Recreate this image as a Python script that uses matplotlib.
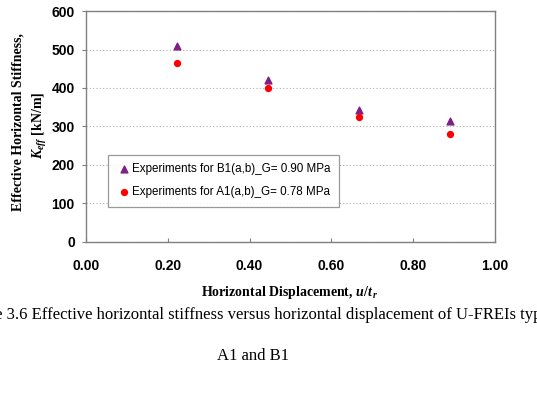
import matplotlib
matplotlib.use('Agg')
import matplotlib.pyplot as plt

# data
disp = [0.222, 0.444, 0.667, 0.889]
k_b1 = [510, 420, 343, 314]
k_a1 = [464, 400, 324, 281]
lab_b1 = 'Experiments for B1(a,b)_G= 0.90 MPa'
lab_a1 = 'Experiments for A1(a,b)_G= 0.78 MPa'
xticks = [0.0, 0.2, 0.4, 0.6, 0.8, 1.0]
yticks = [0, 100, 200, 300, 400, 500, 600]

plt.rcParams['mathtext.fontset'] = 'custom'
plt.rcParams['mathtext.it'] = 'Liberation Serif:italic:bold'
plt.rcParams['mathtext.bf'] = 'Liberation Serif:bold'
plt.rcParams['mathtext.rm'] = 'Liberation Serif:bold'

fig = plt.figure(figsize=(5.37, 3.94), dpi=100)
ax = fig.add_axes([0.160, 0.386, 0.762, 0.586])

ax.scatter(disp, k_b1, marker='^', s=24, color='#7f1f86', label=lab_b1, zorder=3)
ax.scatter(disp, k_a1, marker='o', s=18, color='#ff0000', label=lab_a1, zorder=3)

ax.set_xlim(0, 1)
ax.set_ylim(0, 600)
ax.set_xticks(xticks)
ax.set_yticks(yticks)
ax.set_xticklabels(['%.2f' % v for v in xticks])
ax.set_yticklabels([str(v) for v in yticks])
for t in ax.get_xticklabels() + ax.get_yticklabels():
    t.set_fontfamily('Liberation Sans')
    t.set_fontweight('bold')
    t.set_fontsize(10)
ax.tick_params(axis='x', direction='in', length=3, color='#808080', pad=12)
ax.tick_params(axis='y', direction='out', length=3, color='#808080', pad=5)

ax.grid(axis='y', linestyle=(0, (1, 2)), color='#b0b0b0', linewidth=0.8)
ax.set_axisbelow(True)
for s in ax.spines.values():
    s.set_color('#808080')
    s.set_linewidth(1.0)

leg = ax.legend(loc='lower left', bbox_to_anchor=(0.04, 0.125), frameon=True,
                fancybox=False, edgecolor='#808080',
                handletextpad=0.1, handlelength=1.2, borderpad=0.75,
                labelspacing=0.95, prop={'family': 'Liberation Sans', 'size': 8.4})
leg.get_frame().set_linewidth(0.9)

fig.text(0.034, 0.69, 'Effective Horizontal Stiffness,', rotation=90,
         ha='center', va='center', family='Liberation Serif',
         fontweight='bold', fontsize=10)
fig.text(0.075, 0.682, r'$\mathit{K_{eff}}$ [kN/m]', rotation=90,
         ha='center', va='center', family='Liberation Serif',
         fontweight='bold', fontsize=10)
fig.text(0.54, 0.258, r'Horizontal Displacement, $\mathit{u/t}_{\,\mathit{r}}$',
         ha='center', va='center', family='Liberation Serif',
         fontweight='bold', fontsize=10)

fig.text(0.472, 0.201,
         'Figure 3.6 Effective horizontal stiffness versus horizontal displacement of U-FREIs type',
         ha='center', va='center', family='Liberation Serif', fontsize=12.0)
fig.text(0.472, 0.097, 'A1 and B1', ha='center', va='center',
         family='Liberation Serif', fontsize=12.0)

fig.savefig('out.png', dpi=100)
